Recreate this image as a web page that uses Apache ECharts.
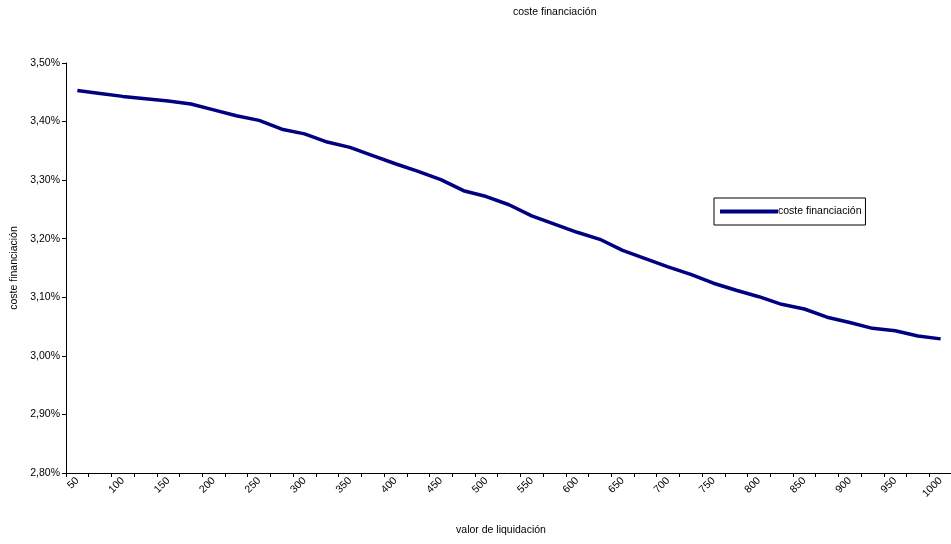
<!DOCTYPE html>
<html>
<head>
<meta charset="utf-8">
<title>coste financiación</title>
<script src="https://cdn.jsdelivr.net/npm/echarts@6/dist/echarts.min.js"></script>
<style>
  html, body { margin: 0; padding: 0; background: #fff; }
  #chart { width: 951px; height: 544px; }
</style>
</head>
<body>
<div id="chart"></div>
<script>
// valor de liquidación, every 25 from 50 to 1000
const categories = [
  '50','75','100','125','150','175','200','225','250','275',
  '300','325','350','375','400','425','450','475','500','525',
  '550','575','600','625','650','675','700','725','750','775',
  '800','825','850','875','900','925','950','975','1000'
];

// coste financiación, in percent
const costeFinanciacion = [
  3.453, 3.448, 3.443, 3.439, 3.435, 3.430, 3.420, 3.410, 3.402, 3.387,
  3.379, 3.365, 3.356, 3.342, 3.328, 3.315, 3.301, 3.282, 3.272, 3.258,
  3.239, 3.225, 3.211, 3.199, 3.180, 3.166, 3.152, 3.139, 3.124, 3.112,
  3.101, 3.088, 3.080, 3.066, 3.057, 3.047, 3.043, 3.034, 3.029
];

const seriesName = 'coste financiación';
const chartTitle = 'coste financiación';
const xAxisName = 'valor de liquidación';
const yAxisName = 'coste financiación';

const FONT = '"Liberation Sans", Arial, sans-serif';
const FS = 10.5;
const NAVY = '#000080';

const chart = echarts.init(document.getElementById('chart'), null, { renderer: 'canvas' });

chart.setOption({
  animation: false,
  backgroundColor: '#ffffff',
  textStyle: { fontFamily: FONT },
  title: {
    text: chartTitle,
    left: 513,
    top: 7,
    padding: 0,
    textStyle: { fontFamily: FONT, fontSize: FS, fontWeight: 'normal', color: '#000' }
  },
  legend: {
    left: 714,
    top: 198,
    orient: 'vertical',
    padding: [8, 4, 8, 6],
    backgroundColor: '#fff',
    borderColor: '#000',
    borderWidth: 1,
    borderRadius: 0,
    icon: 'rect',
    itemWidth: 58,
    itemHeight: 4,
    textStyle: { fontFamily: FONT, fontSize: FS, color: '#000', padding: [0, 0, 0, -5] },
    data: [seriesName]
  },
  grid: {
    left: 66,
    top: 63,
    width: 886,
    height: 410,
    containLabel: false,
    outerBoundsMode: 'none'
  },
  xAxis: {
    type: 'category',
    data: categories,
    boundaryGap: true,
    name: xAxisName,
    nameLocation: 'middle',
    nameGap: 52,
    nameTextStyle: { fontFamily: FONT, fontSize: FS, color: '#000', padding: [0, 16, 0, 0] },
    axisLine: { show: true, lineStyle: { color: '#000', width: 1 } },
    axisTick: { show: true, interval: 0, length: 4, inside: false, lineStyle: { color: '#000' } },
    axisLabel: {
      interval: 1,
      rotate: 45,
      margin: 6,
      fontFamily: FONT,
      fontSize: FS,
      color: '#000'
    },
    splitLine: { show: false }
  },
  yAxis: {
    type: 'value',
    min: 2.8,
    max: 3.5,
    interval: 0.1,
    name: yAxisName,
    nameLocation: 'middle',
    nameGap: 41,
    nameTextStyle: { fontFamily: FONT, fontSize: FS, color: '#000' },
    axisLine: { show: true, lineStyle: { color: '#000', width: 1 } },
    axisTick: { show: true, length: 4, inside: false, lineStyle: { color: '#000' } },
    axisLabel: {
      margin: 6,
      fontFamily: FONT,
      fontSize: FS,
      color: '#000',
      formatter: v => v.toFixed(2).replace('.', ',') + '%'
    },
    splitLine: { show: false }
  },
  series: [{
    name: seriesName,
    type: 'line',
    data: costeFinanciacion,
    symbol: 'none',
    smooth: false,
    lineStyle: { color: NAVY, width: 3.5 },
    itemStyle: { color: NAVY }
  }]
});
</script>
</body>
</html>
